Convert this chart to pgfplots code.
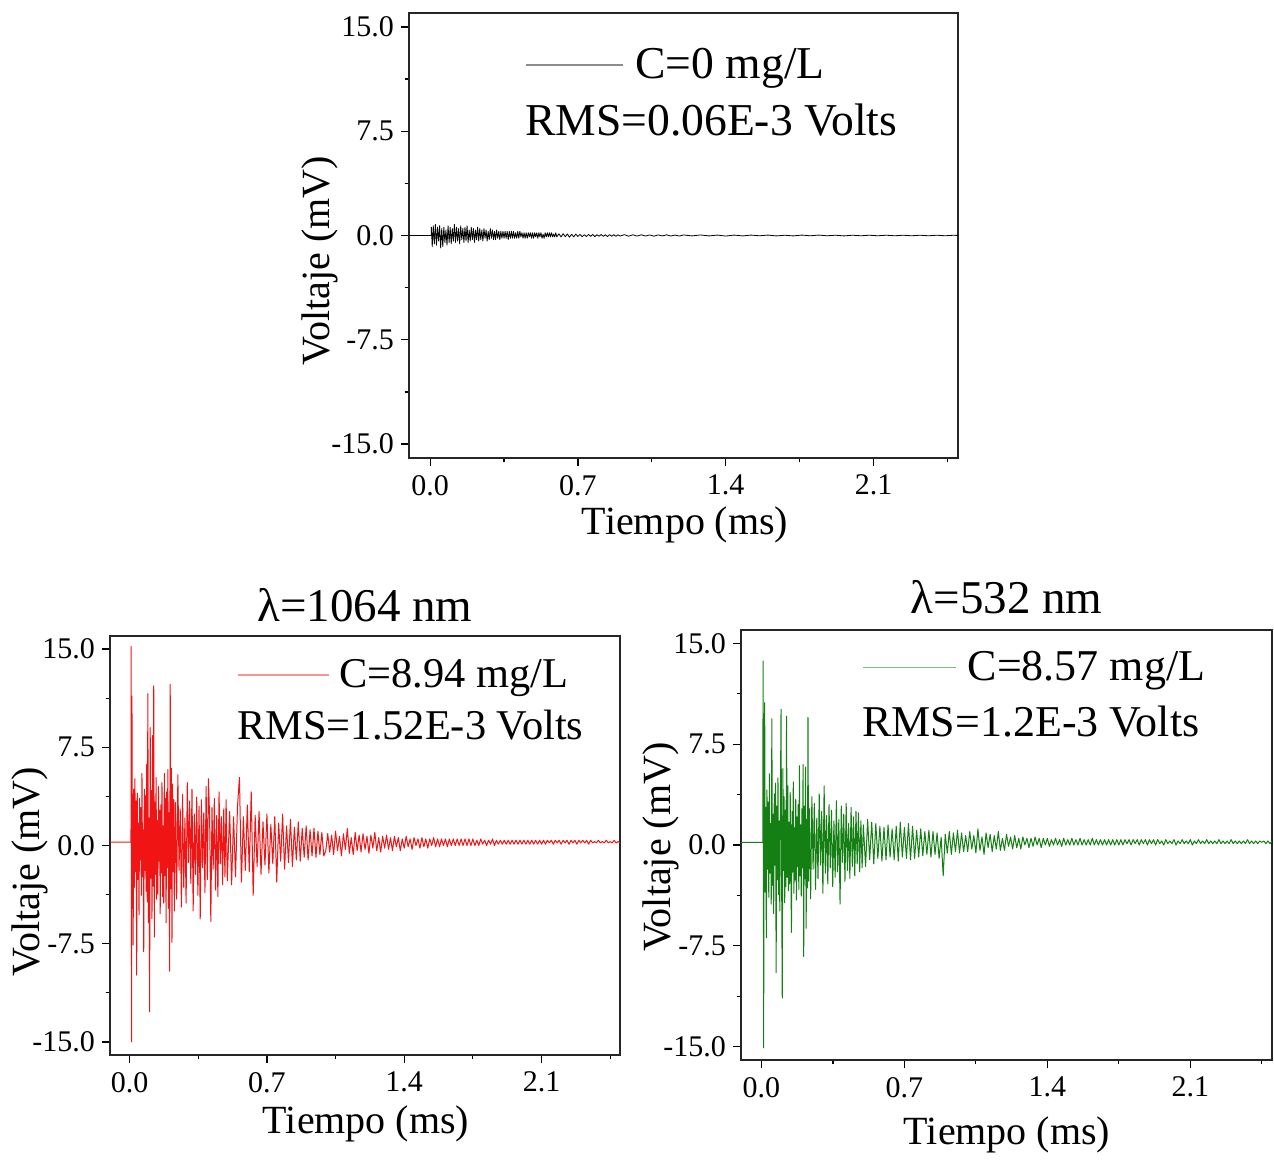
\documentclass[border=0pt]{standalone}
\usepackage{fontspec}
\setmainfont{Liberation Serif}
\usepackage{pgfplots}
\pgfplotsset{compat=1.18}
\definecolor{sigred}{RGB}{240,20,20}
\definecolor{sigred2}{RGB}{244,150,150}
\definecolor{siggreen}{RGB}{20,128,20}
\definecolor{siggreen2}{RGB}{120,190,120}
\pgfplotsset{
 sigaxis/.style={
  scale only axis,
  xmin=-0.1, xmax=2.5, ymin=-16, ymax=16,
  xtick={0,0.7,1.4,2.1}, xticklabels={0.0,0.7,1.4,2.1},
  minor xtick={0.35,1.05,1.75,2.45},
  ytick={-15,-7.5,0,7.5,15}, yticklabels={-15.0,-7.5,0.0,7.5,15.0},
  minor ytick={-11.25,-3.75,3.75,11.25},
  tick align=outside, xtick pos=bottom, ytick pos=left,
  major tick length=4pt, minor tick length=2.2pt,
  every tick/.style={black, line width=0.6pt},
  axis line style={line width=0.8pt, black!85},
  xticklabel style={font=\fontsize{15}{17}\selectfont, yshift=-1pt},
  yticklabel style={font=\fontsize{15}{17}\selectfont},
  label style={font=\fontsize{20}{24}\selectfont},
  xlabel={Tiempo (ms)}, ylabel={Voltaje (mV)},
  title style={font=\fontsize{23.5}{28}\selectfont, at={(0.5,1)}, anchor=base},
  legend style={draw=none, fill=none, inner sep=0pt, anchor=west, legend cell align=left},
  clip=true,
 },
 sig/.style={line width=0.5pt, line join=round, forget plot},
}
\begin{document}
\begin{tikzpicture}
\path (0,0) rectangle (637pt,-578pt);
% ---------------- top panel ----------------
\begin{axis}[sigaxis, at={(204.5pt,-6.5pt)}, anchor=north west, width=274.5pt, height=222.5pt,
  xlabel style={at={(axis description cs:0.503,-0.15)}, anchor=center},
  ylabel style={at={(axis description cs:-0.162,0.443)}, anchor=center},
  legend image code/.code={\draw[#1] (0pt,0pt) -- (48.5pt,0pt); \path (52.5pt,0pt);},
  legend style={at={(0.211,0.883)}, font=\fontsize{22.8}{26}\selectfont}]
\addlegendimage{color=black!45, line width=0.6pt}
\addlegendentry{C=0 mg/L}
\addplot[black, sig, line width=0.4pt] coordinates {
(-0.1,0) (0.005,0)
(0.006,0.6) (0.010,-0.8) (0.015,0.7) (0.020,-0.6) (0.025,0.8) (0.030,-0.7) (0.035,0.6) (0.040,-0.4) (0.045,0.7) (0.050,-0.9)
(0.055,0.5) (0.060,-0.8) (0.065,0.6) (0.070,-0.5) (0.075,0.4) (0.080,-0.7) (0.085,0.7) (0.090,-0.5) (0.095,0.6) (0.100,-0.6)
(0.105,0.5) (0.110,-0.4) (0.115,0.8) (0.120,-0.5) (0.125,0.6) (0.130,-0.4) (0.135,0.5) (0.140,-0.6) (0.145,0.7) (0.150,-0.3)
(0.155,0.5) (0.160,-0.5) (0.165,0.6) (0.170,-0.4) (0.175,0.7) (0.180,-0.5) (0.185,0.4) (0.190,-0.4) (0.195,0.6) (0.200,-0.3)
(0.205,0.5) (0.210,-0.5) (0.215,0.4) (0.220,-0.3) (0.225,0.6) (0.230,-0.4) (0.235,0.5) (0.240,-0.3) (0.245,0.4) (0.250,-0.4)
(0.255,0.5) (0.260,-0.2) (0.265,0.4) (0.270,-0.4) (0.275,0.3) (0.280,-0.3) (0.285,0.5) (0.290,-0.2) (0.295,0.4) (0.300,-0.3)
(0.305,0.3) (0.310,-0.3) (0.315,0.4) (0.320,-0.2) (0.325,0.3) (0.330,-0.3) (0.335,0.3) (0.340,-0.2) (0.345,0.3) (0.350,-0.2)
(0.355,0.3) (0.360,-0.2) (0.365,0.3) (0.370,-0.3) (0.375,0.3) (0.380,-0.2) (0.385,0.3) (0.390,-0.2) (0.395,0.3) (0.400,-0.2)
(0.405,0.2) (0.410,-0.2) (0.415,0.3) (0.420,-0.2) (0.425,0.3) (0.430,-0.1) (0.435,0.2) (0.440,-0.2) (0.445,0.2) (0.450,-0.2)
(0.455,0.2) (0.460,-0.2) (0.465,0.2) (0.470,-0.1) (0.475,0.2) (0.480,-0.2) (0.485,0.2) (0.490,-0.2) (0.495,0.2) (0.500,-0.1)
(0.505,0.2) (0.510,-0.2) (0.515,0.2) (0.520,-0.1) (0.525,0.2) (0.530,-0.2) (0.535,0.1) (0.540,-0.2) (0.545,0.2) (0.550,-0.1)
(0.555,0.2) (0.560,-0.1) (0.565,0.2) (0.570,-0.1) (0.575,0.2) (0.580,-0.1) (0.585,0.1) (0.590,-0.1) (0.595,0.2) (0.600,-0.1)
(0.61,0.12) (0.62,-0.10) (0.63,0.13) (0.64,-0.09) (0.65,0.11) (0.66,-0.12) (0.67,0.09) (0.68,-0.10) (0.69,0.10) (0.70,-0.07)
(0.71,0.08) (0.72,-0.09) (0.73,0.06) (0.74,-0.07) (0.75,0.08) (0.76,-0.06) (0.77,0.07) (0.78,-0.08) (0.79,0.06) (0.80,-0.05)
(0.81,0.07) (0.82,-0.06) (0.83,0.05) (0.84,-0.07) (0.85,0.06) (0.86,-0.05) (0.87,0.06) (0.88,-0.06) (0.89,0.05) (0.90,-0.04)
(0.92,0.06) (0.94,-0.05) (0.96,0.05) (0.98,-0.04) (1.00,0.05) (1.02,-0.04) (1.04,0.04) (1.06,-0.05) (1.08,0.04) (1.10,-0.03)
(1.12,0.05) (1.14,-0.04) (1.16,0.03) (1.18,-0.04) (1.20,0.04) (1.24,-0.03) (1.28,0.04) (1.32,-0.03) (1.36,0.03) (1.40,-0.04)
(1.44,0.03) (1.48,-0.03) (1.52,0.03) (1.56,-0.02) (1.60,0.03) (1.64,-0.03) (1.68,0.02) (1.72,-0.03) (1.76,0.03) (1.80,-0.02)
(1.84,0.03) (1.88,-0.02) (1.92,0.02) (1.96,-0.03) (2.00,0.02) (2.04,-0.02) (2.08,0.02) (2.12,-0.02) (2.16,0.02) (2.20,-0.02)
(2.24,0.02) (2.28,-0.02) (2.32,0.02) (2.36,-0.02) (2.40,0.02) (2.44,-0.02) (2.48,0.02) (2.50,0.0)
};
\node[anchor=west, inner sep=0pt, font=\fontsize{22.8}{26}\selectfont] at (rel axis cs:0.211,0.76) {RMS=0.06E-3 Volts};
\end{axis}
% ---------------- bottom left panel ----------------
\begin{axis}[sigaxis, at={(55pt,-318pt)}, anchor=north west, width=255pt, height=209.5pt,
  title={λ=1064 nm}, title style={yshift=1.5pt},
  xlabel style={at={(axis description cs:0.502,-0.165)}, anchor=center},
  ylabel style={at={(axis description cs:-0.157,0.437)}, anchor=center},
  legend image code/.code={\draw[#1] (0pt,0pt) -- (45.5pt,0pt); \path (48.5pt,0pt);},
  legend style={at={(0.249,0.907)}, font=\fontsize{21.2}{25}\selectfont}]
\addlegendimage{color=sigred2, line width=0.6pt}
\addlegendentry{C=8.94 mg/L}
\addplot[sigred, sig] coordinates {
(-0.1,0.25) (0.007,0.25)
(0.008,15.2) (0.010,-15.0) (0.012,11.4) (0.014,-4.8) (0.016,3.9) (0.018,-7.6) (0.021,4.3) (0.024,-3.2) (0.027,5.1) (0.030,-2.0)
(0.033,3.4) (0.036,-9.9) (0.039,4.0) (0.042,-2.6) (0.045,1.7) (0.048,-5.3) (0.051,3.6) (0.054,-1.1) (0.057,2.9) (0.060,-3.8)
(0.063,5.5) (0.066,-2.4) (0.069,1.2) (0.072,-8.1) (0.075,4.3) (0.078,-1.9) (0.081,3.8) (0.084,-3.5) (0.087,6.2) (0.090,-4.3)
(0.093,11.6) (0.096,-5.9) (0.099,2.1) (0.102,-12.7) (0.105,9.0) (0.108,-2.5) (0.111,4.2) (0.114,-5.6) (0.117,8.4) (0.120,-3.1)
(0.123,12.2) (0.126,-7.0) (0.129,3.3) (0.132,-2.2) (0.135,5.2) (0.138,-4.1) (0.141,1.9) (0.144,-3.7) (0.147,4.5) (0.150,-1.2)
(0.153,2.7) (0.156,-5.2) (0.159,3.1) (0.162,-2.1) (0.165,4.8) (0.168,-3.9) (0.171,1.5) (0.174,-4.4) (0.177,5.5) (0.180,-2.3)
(0.183,3.6) (0.186,-5.9) (0.189,4.1) (0.192,-1.7) (0.195,5.8) (0.198,-4.8) (0.201,2.5) (0.204,-9.6) (0.207,12.3) (0.210,-3.3)
(0.213,5.9) (0.216,-7.4) (0.219,4.7) (0.222,-2.0) (0.225,3.5) (0.228,-5.0)
(0.234,3.3) (0.240,-4.1) (0.246,5.4) (0.252,-1.9) (0.258,2.8) (0.264,-4.7) (0.270,3.9) (0.276,-3.2) (0.282,2.1) (0.288,-4.4)
(0.294,4.8) (0.300,-1.3) (0.306,3.4) (0.312,-2.9) (0.318,4.3) (0.324,-5.0) (0.330,2.4) (0.336,-2.2) (0.342,3.7) (0.348,-3.8)
(0.354,3.0) (0.360,-5.6) (0.366,3.5) (0.372,-1.7) (0.378,2.5) (0.384,-3.6) (0.390,4.5) (0.396,-2.6) (0.402,5.1) (0.408,2.0)
(0.414,-5.8) (0.420,2.9) (0.426,-1.8) (0.432,3.6) (0.438,-3.4) (0.444,2.3) (0.450,-3.9) (0.456,4.1) (0.462,-1.4) (0.468,2.2)
(0.474,-3.0) (0.480,2.8) (0.486,-2.4) (0.492,3.5) (0.498,-2.7)
(0.51,2.6) (0.52,-3.0) (0.53,2.2) (0.54,-2.4) (0.55,3.0) (0.56,5.2) (0.57,-2.8) (0.58,2.2) (0.59,-1.9) (0.60,3.1)
(0.61,-2.0) (0.62,4.1) (0.63,-3.8) (0.64,2.3) (0.65,-1.6) (0.66,2.6) (0.67,-2.2) (0.68,1.8) (0.69,-1.5) (0.70,2.4)
(0.71,-2.1) (0.72,1.6) (0.73,-1.4) (0.74,2.2) (0.75,-2.8) (0.76,1.7) (0.77,-1.2) (0.78,2.4) (0.79,-1.8) (0.80,1.5)
(0.81,-1.3) (0.82,2.0) (0.83,-1.6) (0.84,1.4) (0.85,-1.1) (0.86,1.8) (0.87,-1.2) (0.88,1.3) (0.89,-0.9) (0.90,1.5)
(0.91,-1.1) (0.92,1.2) (0.93,-0.8) (0.94,1.3) (0.95,-0.9) (0.96,1.1) (0.97,-0.7) (0.98,1.0) (0.99,-0.8) (1.00,-0.4)
(1.01,0.9) (1.02,-0.5) (1.03,0.8) (1.04,-0.7) (1.05,1.1) (1.06,-0.4) (1.07,0.7) (1.08,-0.8) (1.09,0.9) (1.10,-0.3)
(1.11,1.3) (1.12,-0.6) (1.13,0.6) (1.14,-0.7) (1.15,1.0) (1.16,-0.4) (1.17,0.8) (1.18,-0.5) (1.19,0.9) (1.20,-0.3)
(1.21,0.7) (1.22,-0.6) (1.23,0.8) (1.24,-0.2) (1.25,1.0) (1.26,-0.4) (1.27,0.6) (1.28,-0.5) (1.29,0.7) (1.30,-0.2)
(1.31,0.8) (1.32,-0.3) (1.33,0.6) (1.34,-0.4) (1.35,0.7) (1.36,-0.1) (1.37,0.6) (1.38,-0.4) (1.39,0.5) (1.40,-0.2)
(1.41,0.7) (1.42,-0.1) (1.43,0.5) (1.44,-0.3) (1.45,0.6) (1.46,0.0) (1.47,0.5) (1.48,-0.2) (1.49,0.6) (1.50,-0.1)
(1.51,0.5) (1.52,-0.2) (1.53,0.5) (1.54,0.0) (1.55,0.6) (1.56,-0.1) (1.57,0.5) (1.58,-0.1) (1.59,0.5) (1.60,0.0)
(1.61,0.5) (1.62,-0.1) (1.63,0.5) (1.64,0.0) (1.65,0.5) (1.66,0.0) (1.67,0.5) (1.68,0.0) (1.69,0.5) (1.70,0.0)
(1.71,0.5) (1.72,0.0) (1.73,0.5) (1.74,0.0) (1.75,0.5) (1.76,0.0) (1.77,0.4) (1.78,0.0) (1.79,0.5) (1.80,0.1)
(1.81,0.4) (1.82,0.0) (1.83,0.4) (1.84,0.1) (1.85,0.5) (1.86,0.0) (1.87,0.4) (1.88,0.1) (1.89,0.4) (1.90,0.1)
(1.91,0.4) (1.92,0.1) (1.93,0.4) (1.94,0.1) (1.95,0.4) (1.96,0.1) (1.97,0.4) (1.98,0.1) (1.99,0.4) (2.00,0.1)
(2.01,0.4) (2.02,0.1) (2.03,0.4) (2.04,0.1) (2.05,0.4) (2.06,0.1) (2.07,0.4) (2.08,0.1) (2.09,0.4) (2.10,0.1)
(2.11,0.4) (2.12,0.1) (2.13,0.4) (2.14,0.2) (2.15,0.4) (2.16,0.1) (2.17,0.4) (2.18,0.2) (2.19,0.4) (2.20,0.1)
(2.21,0.4) (2.22,0.2) (2.23,0.4) (2.24,0.1) (2.25,0.4) (2.26,0.2) (2.27,0.4) (2.28,0.1) (2.29,0.4) (2.30,0.2)
(2.31,0.4) (2.32,0.2) (2.33,0.4) (2.34,0.1) (2.35,0.4) (2.36,0.2) (2.37,0.3) (2.38,0.2) (2.39,0.4) (2.40,0.2)
(2.41,0.3) (2.42,0.2) (2.43,0.4) (2.44,0.2) (2.45,0.3) (2.46,0.2) (2.47,0.4) (2.48,0.2) (2.49,0.3) (2.50,0.2)
};
\node[anchor=west, inner sep=0pt, font=\fontsize{21.2}{25}\selectfont] at (rel axis cs:0.249,0.788) {RMS=1.52E-3 Volts};
\end{axis}
% ---------------- bottom right panel ----------------
\begin{axis}[sigaxis, at={(370.5pt,-315pt)}, anchor=north west, width=265.5pt, height=215pt,
  title={λ=532 nm}, title style={yshift=2.5pt},
  xlabel style={at={(axis description cs:0.501,-0.174)}, anchor=center},
  ylabel style={at={(axis description cs:-0.151,0.495)}, anchor=center},
  legend image code/.code={\draw[#1] (0pt,0pt) -- (46.5pt,0pt); \path (50pt,0pt);},
  legend style={at={(0.228,0.912)}, font=\fontsize{22}{26}\selectfont}]
\addlegendimage{color=siggreen2, line width=0.6pt}
\addlegendentry{C=8.57 mg/L}
\addplot[siggreen, sig] coordinates {
(-0.1,0.2) (0.007,0.2)
(0.008,13.7) (0.011,-15.1) (0.013,8.2) (0.016,10.6) (0.018,-3.5) (0.021,2.8) (0.024,-6.9) (0.027,4.1) (0.030,-1.8) (0.033,3.2)
(0.036,-3.9) (0.039,5.3) (0.042,-2.1) (0.045,1.6) (0.048,-4.4) (0.051,9.4) (0.054,-3.0) (0.057,2.3) (0.060,-5.1) (0.063,3.8)
(0.066,-1.5) (0.069,4.6) (0.072,-9.5) (0.075,2.9) (0.078,-2.6) (0.081,5.0) (0.084,-3.7) (0.087,1.8) (0.090,-4.9) (0.093,3.5)
(0.096,10.1) (0.099,-2.8) (0.102,-11.4) (0.105,5.7) (0.108,-1.9) (0.111,3.6) (0.114,-4.3) (0.117,2.6) (0.120,-3.1) (0.123,9.6)
(0.126,-2.4) (0.129,4.4) (0.132,-3.4) (0.135,1.7) (0.138,-2.9) (0.141,3.9) (0.144,-1.4) (0.147,-6.5) (0.150,2.5) (0.153,-2.0)
(0.156,4.7) (0.159,-3.6) (0.162,1.3) (0.165,-2.6) (0.168,3.4) (0.171,-4.1) (0.174,2.1) (0.177,-1.6) (0.180,3.0) (0.183,-3.3)
(0.186,5.9) (0.189,-2.3) (0.192,1.5) (0.195,-3.8) (0.198,2.7) (0.201,-1.7) (0.204,6.0) (0.207,-8.3) (0.210,2.9) (0.213,-2.5)
(0.216,5.8) (0.219,-6.2) (0.222,1.9) (0.225,-3.2) (0.228,9.5) (0.231,-2.7)
(0.235,2.7) (0.241,-4.0) (0.247,3.6) (0.253,-1.8) (0.259,3.1) (0.265,-3.3) (0.271,2.0) (0.277,-2.5) (0.283,3.8) (0.289,-1.5)
(0.295,2.5) (0.301,-3.6) (0.307,4.4) (0.313,-2.1) (0.319,2.2) (0.325,-2.9) (0.331,3.0) (0.337,-1.7) (0.343,2.6) (0.349,-3.1)
(0.355,1.8) (0.361,-2.4) (0.367,3.3) (0.373,-2.0) (0.379,1.9) (0.385,-4.4) (0.391,2.9) (0.397,-1.3) (0.403,2.3) (0.409,-2.7)
(0.415,3.1) (0.421,-1.9) (0.427,1.6) (0.433,-2.5) (0.439,2.8) (0.445,-1.6) (0.451,2.1) (0.457,-2.3) (0.463,2.5) (0.469,-1.4)
(0.475,2.4) (0.481,-2.0) (0.487,1.8) (0.493,-1.7) (0.499,1.5)
(0.51,-1.6) (0.52,1.9) (0.53,-1.1) (0.54,1.7) (0.55,-1.4) (0.56,1.6) (0.57,-1.0) (0.58,1.4) (0.59,-1.2) (0.60,1.3)
(0.61,-1.1) (0.62,1.5) (0.63,-0.9) (0.64,1.2) (0.65,-1.1) (0.66,1.4) (0.67,-1.2) (0.68,1.7) (0.69,-0.9) (0.70,1.3)
(0.71,-1.0) (0.72,1.6) (0.73,-1.1) (0.74,1.4) (0.75,-1.0) (0.76,1.1) (0.77,-0.9) (0.78,1.2) (0.79,-0.8) (0.80,1.0)
(0.81,-0.7) (0.82,1.1) (0.83,-0.9) (0.84,1.0) (0.85,-0.7) (0.86,0.9) (0.87,-1.0) (0.88,0.6) (0.89,-2.3) (0.90,0.8)
(0.91,-0.6) (0.92,1.0) (0.93,-0.7) (0.94,0.9) (0.95,-0.5) (0.96,1.1) (0.97,-0.6) (0.98,0.9) (0.99,-0.5) (1.00,0.7)
(1.01,-0.5) (1.02,1.0) (1.03,-0.3) (1.04,0.7) (1.05,-0.6) (1.06,1.2) (1.07,-0.4) (1.08,0.6) (1.09,-0.7) (1.10,0.9)
(1.11,-0.2) (1.12,0.8) (1.13,-0.5) (1.14,0.7) (1.15,-0.3) (1.16,1.0) (1.17,-0.4) (1.18,0.5) (1.19,-0.4) (1.20,0.8)
(1.21,-0.1) (1.22,0.6) (1.23,-0.3) (1.24,0.7) (1.25,-0.2) (1.26,0.5) (1.27,-0.3) (1.28,0.6) (1.29,0.0) (1.30,0.5)
(1.31,-0.2) (1.32,0.5) (1.33,-0.1) (1.34,0.6) (1.35,0.0) (1.36,0.5) (1.37,-0.2) (1.38,0.5) (1.39,0.0) (1.40,0.5)
(1.41,-0.1) (1.42,0.4) (1.43,0.0) (1.44,0.5) (1.45,0.0) (1.46,0.4) (1.47,-0.1) (1.48,0.5) (1.49,0.0) (1.50,0.4)
(1.51,0.0) (1.52,0.5) (1.53,0.0) (1.54,0.4) (1.55,0.0) (1.56,0.5) (1.57,0.0) (1.58,0.4) (1.59,0.0) (1.60,0.4)
(1.61,0.0) (1.62,0.5) (1.63,0.0) (1.64,0.4) (1.65,0.0) (1.66,0.4) (1.67,0.0) (1.68,0.4) (1.69,0.0) (1.70,0.4)
(1.71,0.0) (1.72,0.4) (1.73,0.0) (1.74,0.4) (1.75,0.0) (1.76,0.4) (1.77,0.0) (1.78,0.4) (1.79,0.1) (1.80,0.4)
(1.81,0.0) (1.82,0.4) (1.83,0.1) (1.84,0.4) (1.85,0.0) (1.86,0.4) (1.87,0.1) (1.88,0.4) (1.89,0.0) (1.90,0.4)
(1.91,0.1) (1.92,0.4) (1.93,0.0) (1.94,0.4) (1.95,0.1) (1.96,0.3) (1.97,0.0) (1.98,0.4) (1.99,0.1) (2.00,0.3)
(2.01,0.1) (2.02,0.4) (2.03,0.0) (2.04,0.3) (2.05,0.1) (2.06,0.4) (2.07,0.1) (2.08,0.3) (2.09,0.1) (2.10,0.4)
(2.11,0.0) (2.12,0.3) (2.13,0.1) (2.14,0.4) (2.15,0.1) (2.16,0.3) (2.17,0.1) (2.18,0.4) (2.19,0.1) (2.20,0.3)
(2.21,0.1) (2.22,0.3) (2.23,0.1) (2.24,0.4) (2.25,0.1) (2.26,0.3) (2.27,0.1) (2.28,0.3) (2.29,0.1) (2.30,0.4)
(2.31,0.1) (2.32,0.3) (2.33,0.1) (2.34,0.3) (2.35,0.1) (2.36,0.3) (2.37,0.1) (2.38,0.4) (2.39,0.1) (2.40,0.3)
(2.41,0.1) (2.42,0.3) (2.43,0.1) (2.44,0.3) (2.45,0.2) (2.46,0.3) (2.47,0.1) (2.48,0.3) (2.49,0.1) (2.50,0.3)
};
\node[anchor=west, inner sep=0pt, font=\fontsize{22}{26}\selectfont] at (rel axis cs:0.228,0.786) {RMS=1.2E-3 Volts};
\end{axis}
\end{tikzpicture}
\end{document}
